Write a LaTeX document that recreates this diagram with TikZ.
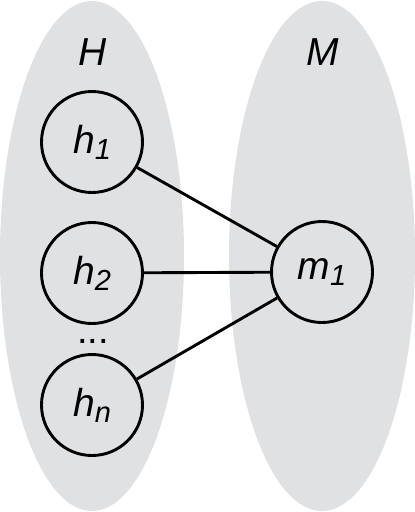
\documentclass[tikz,border=0pt]{standalone}
\usepackage{fontspec}
\setmainfont{Liberation Sans}
\definecolor{setgray}{RGB}{224,225,227}
\begin{document}
\begin{tikzpicture}[x=1pt,y=-1pt,
  elem/.style={circle,draw=black,line width=2.9pt,minimum size=101pt,inner sep=0pt,fill=setgray},
  lbl/.style={font=\fontsize{39}{40}\selectfont\itshape},
  link/.style={line width=2.9pt,black}]
\useasboundingbox (0,0) rectangle (415,512);
\fill[setgray] (92,256) ellipse [x radius=92, y radius=255];
\fill[setgray] (322,256) ellipse [x radius=93, y radius=255];
\node[lbl] (H) at (93,52) {H};
\node[lbl] (M) at (323,52) {M};
\node[elem,lbl] (h1) at (92,142) {h\raisebox{-6pt}{\fontsize{29}{30}\selectfont 1}};
\node[elem,lbl] (h2) at (92,273) {h\raisebox{-6pt}{\fontsize{29}{30}\selectfont 2}};
\node[elem,lbl] (hn) at (92,405) {h\raisebox{-6pt}{\fontsize{29}{30}\selectfont n}};
\node[elem,lbl] (m1) at (322,272) {m\raisebox{-6pt}{\fontsize{29}{30}\selectfont 1}};
\node[font=\fontsize{38}{40}\selectfont] (dots) at (93,341) {...};
\draw[link] (h1) -- (m1);
\draw[link] (h2) -- (m1);
\draw[link] (hn) -- (m1);
\end{tikzpicture}
\end{document}
